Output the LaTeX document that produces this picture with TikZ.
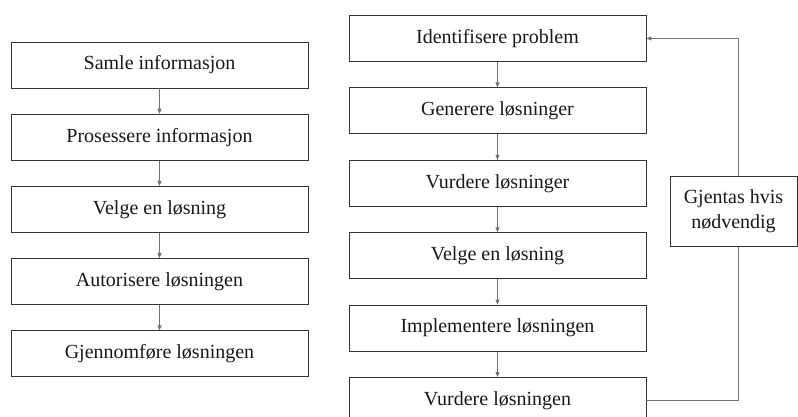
\documentclass[tikz,border=0pt]{standalone}
\usepackage{fontspec}
\setmainfont{Liberation Serif}
\usetikzlibrary{arrows.meta}
\definecolor{boxline}{HTML}{333333}
\definecolor{flowline}{HTML}{707070}
\begin{document}
\begin{tikzpicture}[x=1pt,y=-1pt,
  stepbox/.style={draw=boxline, line width=0.9pt, fill=white, minimum width=297pt,
    minimum height=46pt, inner sep=0pt, text=black!90,
    font=\fontsize{20}{24}\selectfont},
  notebox/.style={draw=boxline, line width=0.9pt, fill=white, minimum width=127pt,
    minimum height=70pt, inner sep=0pt, text=black!90, align=center,
    font=\fontsize{20}{25}\selectfont},
  flow/.style={draw=flowline, line width=0.8pt, -{Triangle[length=5pt,width=4pt]}},
  loopline/.style={draw=flowline, line width=0.8pt}]
\useasboundingbox (0,0) rectangle (798,417);
\clip (0,0) rectangle (798,417);

% left column
\node[stepbox] (l1) at (159.5,65) {Samle informasjon};
\node[stepbox] (l2) at (159.5,137.2) {Prosessere informasjon};
\node[stepbox] (l3) at (159.5,209.4) {Velge en løsning};
\node[stepbox] (l4) at (159.5,281.6) {Autorisere løsningen};
\node[stepbox] (l5) at (159.5,353.8) {Gjennomføre løsningen};
\draw[flow] (l1) -- (l2);
\draw[flow] (l2) -- (l3);
\draw[flow] (l3) -- (l4);
\draw[flow] (l4) -- (l5);

% right column
\node[stepbox] (r1) at (497.5,38.5) {Identifisere problem};
\node[stepbox] (r2) at (497.5,110.9) {Generere løsninger};
\node[stepbox] (r3) at (497.5,183.3) {Vurdere løsninger};
\node[stepbox] (r4) at (497.5,255.7) {Velge en løsning};
\node[stepbox] (r5) at (497.5,328.1) {Implementere løsningen};
\node[stepbox] (r6) at (497.5,400.5) {Vurdere løsningen};
\draw[flow] (r1) -- (r2);
\draw[flow] (r2) -- (r3);
\draw[flow] (r3) -- (r4);
\draw[flow] (r4) -- (r5);
\draw[flow] (r5) -- (r6);

% feedback loop
\coordinate (lb) at (738,400.5);
\coordinate (lt) at (738,38.5);
\draw[loopline] (r6.east) -- (lb) -- (lt);
\draw[flow] (lt) -- (r1.east);
\node[notebox] (rep) at (733.5,211) {Gjentas hvis\\nødvendig};
\end{tikzpicture}
\end{document}
